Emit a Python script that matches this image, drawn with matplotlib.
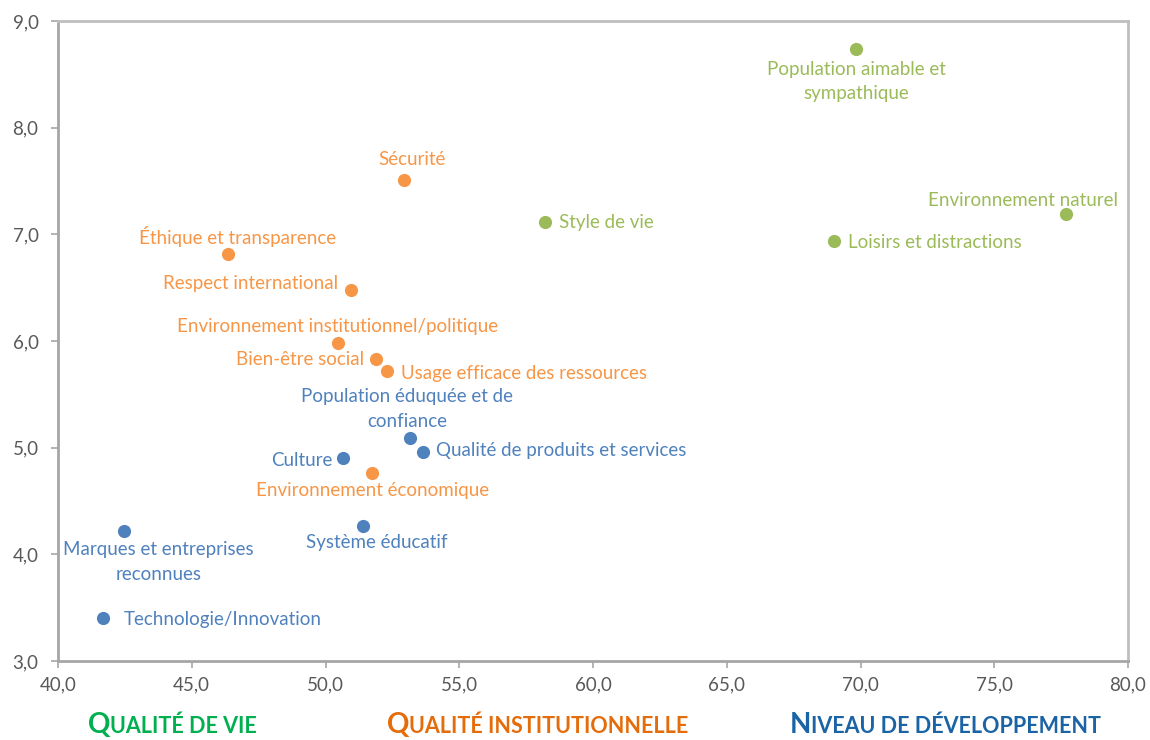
import numpy as np
import matplotlib
matplotlib.use("Agg")
import matplotlib.pyplot as plt
from matplotlib.ticker import FuncFormatter, MultipleLocator

plt.rcParams['font.family'] = ['Lato', 'DejaVu Sans']

# data
labels_vie = ['Population aimable et\nsympathique', 'Environnement naturel',
              'Loisirs et distractions', 'Style de vie']
x_vie = [69.85, 77.7, 69.0, 58.2]
y_vie = [8.74, 7.19, 6.94, 7.12]

labels_inst = ['Sécurité', 'Éthique et transparence', 'Respect international',
               'Environnement institutionnel/politique', 'Bien-être social',
               'Usage efficace des ressources', 'Environnement économique']
x_inst = [52.95, 46.35, 50.95, 50.45, 51.9, 52.3, 51.75]
y_inst = [7.51, 6.82, 6.48, 5.98, 5.83, 5.72, 4.76]

labels_dev = ['Population éduquée et de\nconfiance', 'Qualité de produits et services',
              'Culture', 'Système éducatif', 'Marques et entreprises\nreconnues',
              'Technologie/Innovation']
x_dev = [53.15, 53.65, 50.65, 51.4, 42.45, 41.7]
y_dev = [5.09, 4.96, 4.90, 4.27, 4.22, 3.40]

headings = ['Qualité de vie', 'Qualité institutionnelle', 'Niveau de développement']

# label placement: (dx px, dy px, ha, va)
place = {
    'Population aimable et\nsympathique': (0, -12, 'center', 'top'),
    'Environnement naturel': (-43, 5, 'center', 'bottom'),
    'Loisirs et distractions': (14, -2, 'left', 'center'),
    'Style de vie': (14, -1, 'left', 'center'),
    'Sécurité': (8, 12, 'center', 'bottom'),
    'Éthique et transparence': (10, 7, 'center', 'bottom'),
    'Respect international': (-13, 6, 'right', 'center'),
    'Environnement institutionnel/politique': (0, 8, 'center', 'bottom'),
    'Bien-être social': (-12, 0, 'right', 'center'),
    'Usage efficace des ressources': (14, -3, 'left', 'center'),
    'Environnement économique': (0, -9, 'center', 'top'),
    'Population éduquée et de\nconfiance': (-3, 8, 'center', 'bottom'),
    'Qualité de produits et services': (13, 1, 'left', 'center'),
    'Culture': (-10, -2, 'right', 'center'),
    'Système éducatif': (14, -8, 'center', 'top'),
    'Marques et entreprises\nreconnues': (35, -10, 'center', 'top'),
    'Technologie/Innovation': (20, -1, 'left', 'center'),
}

c_vie, c_inst, c_dev = '#9BBB59', '#F79646', '#4F81BD'

fig = plt.figure(figsize=(11.5, 7.4), dpi=100)
ax = fig.add_axes([58/1150, 1-661/740, (1128-58)/1150, (661-21)/740])

for xs, ys, labs, col in [(x_vie, y_vie, labels_vie, c_vie),
                          (x_inst, y_inst, labels_inst, c_inst),
                          (x_dev, y_dev, labels_dev, c_dev)]:
    ax.scatter(xs, ys, s=90, color=col, zorder=3, linewidths=0)
    for xi, yi, lab in zip(xs, ys, labs):
        dx, dy, ha, va = place[lab]
        ax.annotate(lab, (xi, yi), xytext=(dx, dy), textcoords='offset pixels',
                    ha=ha, va=va, color=col, fontsize=13.5, linespacing=1.55,
                    multialignment='center')

ax.set_xlim(40, 80)
ax.set_ylim(3, 9)
ax.xaxis.set_major_locator(MultipleLocator(5))
ax.yaxis.set_major_locator(MultipleLocator(1))
fmt = FuncFormatter(lambda v, p: f'{v:.1f}'.replace('.', ','))
ax.xaxis.set_major_formatter(fmt)
ax.yaxis.set_major_formatter(fmt)
ax.tick_params(direction='out', length=5, width=1.2, color='#A6A6A6',
               labelcolor='#595959', labelsize=13.5)
ax.tick_params(axis='y', pad=9)
ax.tick_params(axis='x', pad=6)
for side in ['left', 'bottom']:
    ax.spines[side].set_color('#A6A6A6')
    ax.spines[side].set_linewidth(2)
for side in ['top', 'right']:
    ax.spines[side].set_color('#BFBFBF')
    ax.spines[side].set_linewidth(2)

# headings in small caps, faked with two font sizes
renderer = fig.canvas.get_renderer()
head_cols = ['#00B050', '#E46C0A', '#1A63A5']
head_x = [88, 387, 790]
for txt, col, hx in zip(headings, head_cols, head_x):
    x0 = hx / 1150
    y0 = 1 - 733 / 740
    first = fig.text(x0, y0, txt[0].upper(), fontsize=20, fontweight='bold',
                     color=col, family='Lato', va='baseline')
    w = first.get_window_extent(renderer).width
    fig.text(x0 + w / 1150, y0, txt[1:].upper(), fontsize=15.5, fontweight='bold',
             color=col, family='Lato', va='baseline')

fig.savefig('out.png', dpi=100)
